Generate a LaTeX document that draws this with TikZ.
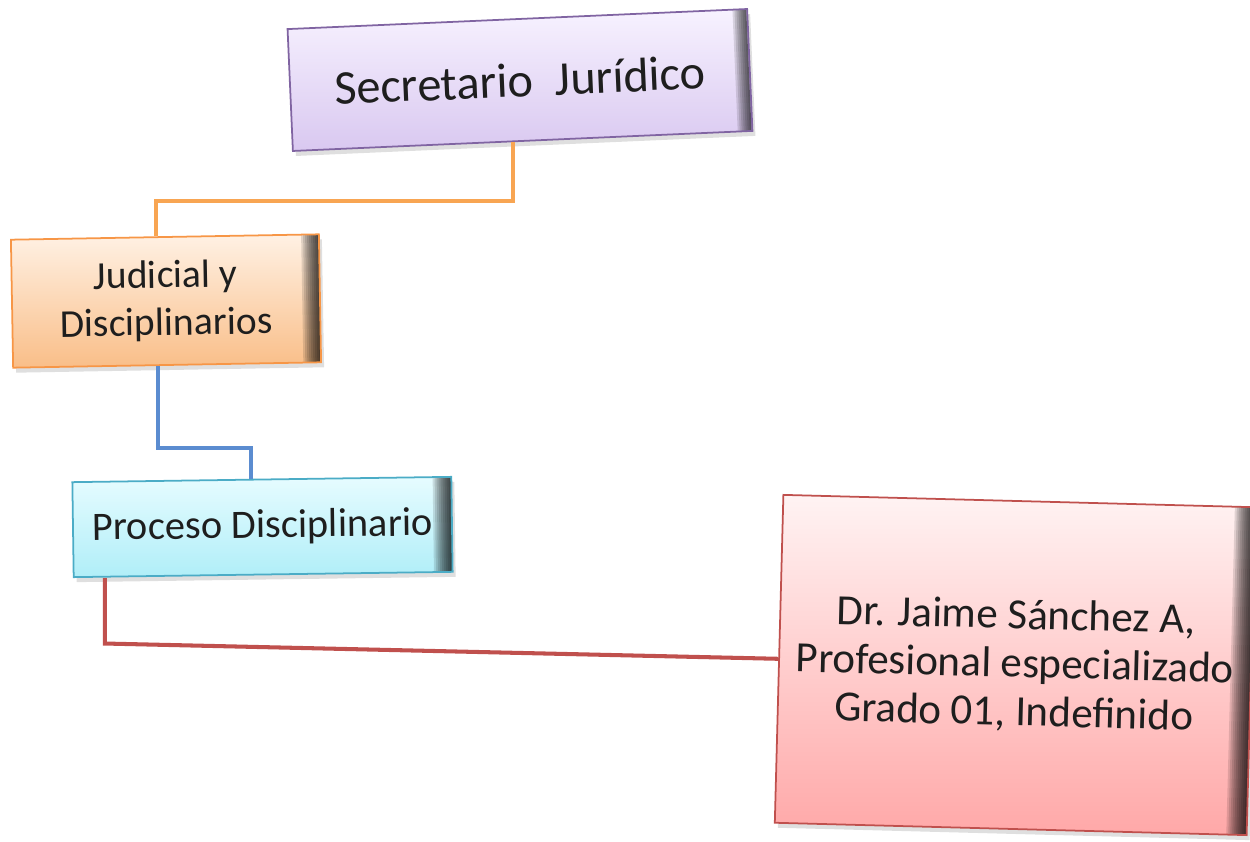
\documentclass[tikz,border=0pt]{standalone}
\usepackage{fontspec}
\setmainfont{Carlito}
\usetikzlibrary{shadows}
\definecolor{secedge}{HTML}{8064A2}
\definecolor{sectop}{HTML}{F7F2FF}
\definecolor{secbot}{HTML}{D9C8F0}
\definecolor{judedge}{HTML}{F79646}
\definecolor{judtop}{HTML}{FFF1E4}
\definecolor{judbot}{HTML}{F9BE88}
\definecolor{procedge}{HTML}{4BACC6}
\definecolor{proctop}{HTML}{E6FCFF}
\definecolor{procbot}{HTML}{B0EEF8}
\definecolor{dredge}{HTML}{C0504D}
\definecolor{drtop}{HTML}{FFF3F3}
\definecolor{drbot}{HTML}{FFA8A8}
\definecolor{orangelink}{HTML}{F8A552}
\definecolor{bluelink}{HTML}{5B8CD0}
\definecolor{inktext}{HTML}{1E1E1E}
\tikzset{
	box/.style n args = {3}{
		shape=rectangle,
		draw=#1,
		line width=1pt,
		align=center,
		text=inktext,
		top color=#2,
		bottom color=#3,
		drop shadow={opacity=0.25, shadow xshift=0.06cm, shadow yshift=-0.1cm},
		path picture={
			% dark bevel on the right side
			\foreach \i in {1,...,10}
				\fill[black, opacity=0.12]
					([xshift=-\i*0.04cm]path picture bounding box.north east)
					rectangle (path picture bounding box.south east);
		}
	},
	link/.style = {
		line width=2.3pt,
		draw=#1
	}
}

\begin{document}
\begin{tikzpicture}
	\useasboundingbox (0,0) rectangle (25,-16.84);
	\node[box={secedge}{sectop}{secbot}, minimum width=9.2cm, minimum height=2.44cm,
		rotate=2.5, font=\fontsize{27.5}{32}\selectfont] (sec) at (10.4,-1.6)
		{Secretario\ \ Jurídico};
	\node[box={judedge}{judtop}{judbot}, minimum width=6.16cm, minimum height=2.56cm,
		rotate=1, font=\fontsize{22.5}{27}\selectfont] (jud) at (3.32,-6.02)
		{Judicial y\\Disciplinarios};
	\node[box={procedge}{proctop}{procbot}, minimum width=7.58cm, minimum height=1.9cm,
		rotate=0.8, font=\fontsize{23}{27}\selectfont] (proc) at (5.25,-10.54)
		{Proceso Disciplinario};
	\node[box={dredge}{drtop}{drbot}, minimum width=9.44cm, minimum height=6.56cm,
		rotate=-1.5, font=\fontsize{24.5}{27.5}\selectfont] (dr) at (20.3,-13.3)
		{Dr. Jaime Sánchez A,\\Profesional especializado\\Grado 01, Indefinido};
	\draw[link=orangelink] ([xshift=-2mm]sec.south) -- ++(0,-1.18)
		-| ([xshift=-1.8mm]jud.north);
	\draw[link=bluelink] ([xshift=-1.8mm]jud.south) -- ++(0,-1.64)
		-| ([xshift=-2.1mm]proc.north);
	\draw[link=dredge] ([xshift=6.4mm]proc.south west) -- ++(0,-1.31)
		-- (dr.west);
\end{tikzpicture}
\end{document}
